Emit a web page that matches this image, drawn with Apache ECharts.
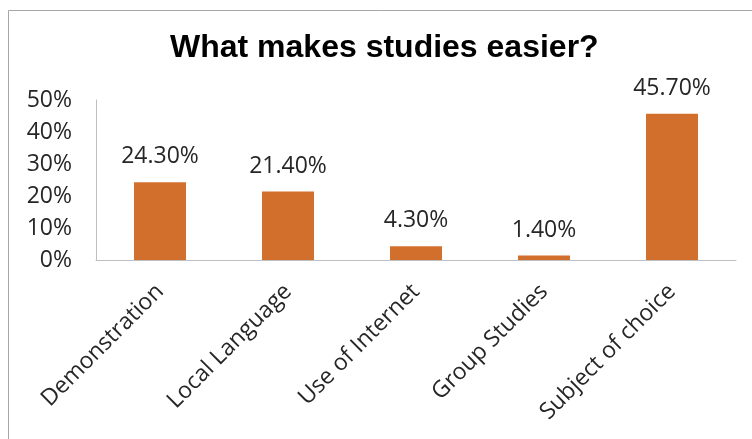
<!DOCTYPE html>
<html>
<head>
<meta charset="utf-8">
<script src="https://cdn.jsdelivr.net/npm/echarts@6/dist/echarts.min.js"></script>
<style>
  html, body { margin: 0; padding: 0; background: #ffffff; }
  #chart { width: 752px; height: 439px; }
</style>
</head>
<body>
<div id="chart"></div>
<script>
// Survey answers: what makes studies easier (percent of respondents)
const categories = ['Demonstration', 'Local Language', 'Use of Internet', 'Group Studies', 'Subject of choice'];
const shares = [24.3, 21.4, 4.3, 1.4, 45.7];
const yTicks = { min: 0, max: 50, step: 10 };

const labelFont = '"Open Sans", Lato, sans-serif';
const chart = echarts.init(document.getElementById('chart'), null, { renderer: 'canvas' });

chart.setOption({
  backgroundColor: '#ffffff',
  animation: false,
  title: {
    text: 'What makes studies easier?',
    left: 170,
    top: 32,
    padding: 0,
    textStyle: {
      fontFamily: '"Liberation Sans", Arial, sans-serif',
      fontWeight: 'bold',
      fontSize: 32,
      color: '#000000'
    }
  },
  graphic: [{
    type: 'rect',
    shape: { x: 8.5, y: 10.5, width: 900, height: 600 },
    style: { fill: 'none', stroke: '#a6a6a6', lineWidth: 1 },
    silent: true
  }],
  grid: { left: 96, right: 16, top: 100, bottom: 179, containLabel: false },
  xAxis: {
    type: 'category',
    data: categories,
    axisLine: { show: true, lineStyle: { color: '#bfbfbf', width: 1 } },
    axisTick: { show: false },
    axisLabel: {
      interval: 0,
      rotate: 45,
      margin: 28,
      fontFamily: labelFont,
      fontSize: 23,
      color: '#262626'
    }
  },
  yAxis: {
    type: 'value',
    min: yTicks.min,
    max: yTicks.max,
    interval: yTicks.step,
    splitLine: { show: false },
    axisLine: { show: true, lineStyle: { color: '#bfbfbf', width: 1 } },
    axisTick: { show: false },
    axisLabel: {
      margin: 24,
      formatter: '{value}%',
      fontFamily: labelFont,
      fontSize: 23,
      color: '#262626'
    }
  },
  series: [{
    type: 'bar',
    data: shares,
    barWidth: 52,
    itemStyle: { color: '#d36f2c' },
    label: {
      show: true,
      position: 'top',
      distance: 14,
      formatter: p => p.value.toFixed(2) + '%',
      fontFamily: labelFont,
      fontSize: 23,
      color: '#262626'
    }
  }]
});
</script>
</body>
</html>
